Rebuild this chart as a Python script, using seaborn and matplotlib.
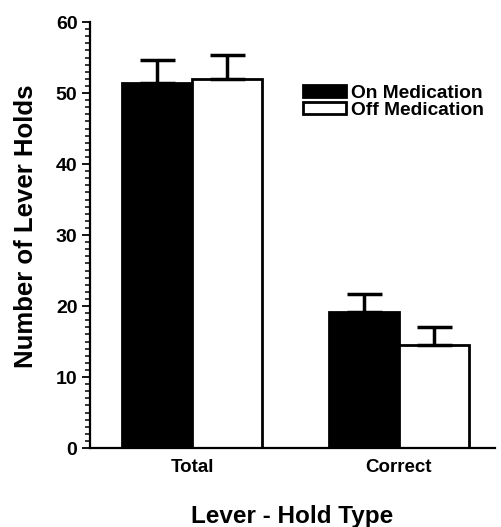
import pandas as pd
import seaborn as sns
import matplotlib.pyplot as plt
from matplotlib.ticker import MultipleLocator
from matplotlib.patches import Patch

# values
hold_types = ["Total", "Correct"]
conditions = ["On Medication", "Off Medication"]
on_means = [51.4, 19.2]
on_sem = [3.3, 2.5]
off_means = [52.0, 14.5]
off_sem = [3.4, 2.6]

df = pd.DataFrame({
    "Lever - Hold Type": hold_types * 2,
    "Condition": [c for c in conditions for _ in hold_types],
    "Holds": on_means + off_means,
    "SEM": on_sem + off_sem,
})

sns.set_style("ticks")
plt.rcParams['font.family'] = ['Liberation Sans', 'DejaVu Sans']
plt.rcParams['font.weight'] = 'bold'
plt.rcParams['text.color'] = 'black'
plt.rcParams['axes.labelcolor'] = 'black'
plt.rcParams['xtick.color'] = 'black'
plt.rcParams['ytick.color'] = 'black'

fig = plt.figure(figsize=(5.01, 5.27), dpi=100)
ax = fig.add_axes([0.1796, 0.1499, 0.8084, 0.8083])

sns.barplot(data=df, x="Lever - Hold Type", y="Holds", hue="Condition",
            palette=["black", "white"], width=0.678, errorbar=None,
            edgecolor="black", linewidth=2, saturation=1, legend=False, ax=ax)

# upper-only error bars, placed on the bar centres seaborn computed
for cont, cond in zip(ax.containers, conditions):
    sub = df[df["Condition"] == cond]
    xs = [p.get_x() + p.get_width() / 2 for p in cont]
    ax.errorbar(xs, sub["Holds"], yerr=[[0] * len(sub), sub["SEM"]], fmt="none",
                ecolor="black", elinewidth=2.5, capsize=12.6, capthick=2.5, zorder=1)

ax.set_ylim(0, 60)
ax.set_xlim(-0.494, 1.467)
ax.set_yticks(range(0, 61, 10))
ax.yaxis.set_minor_locator(MultipleLocator(1))
sns.despine(ax=ax)
for s in ["left", "bottom"]:
    ax.spines[s].set_linewidth(1.6)
    ax.spines[s].set_color("black")

ax.tick_params(axis="y", which="major", length=6, width=1.3,
               labelsize=14, pad=3)
ax.tick_params(axis="y", which="minor", length=3.5, width=1.1)
ax.tick_params(axis="x", length=0, labelsize=13.5, pad=8)

ax.set_ylabel("Number of Lever Holds", fontsize=18.5, fontweight="bold", labelpad=13)
ax.yaxis.label.set_y(0.52)
ax.set_xlabel("Lever - Hold Type", fontsize=17.5, fontweight="bold", labelpad=21)

handles = [Patch(facecolor="black", edgecolor="black", linewidth=2),
           Patch(facecolor="white", edgecolor="black", linewidth=2)]
ax.legend(handles, conditions, frameon=False, loc="upper left",
          bbox_to_anchor=(0.526, 0.852), borderpad=0, borderaxespad=0,
          handlelength=2.25, handleheight=0.58, handletextpad=0.25,
          labelspacing=0.0, prop={"weight": "bold", "size": 13.8})

fig.savefig("out.png", dpi=100)
